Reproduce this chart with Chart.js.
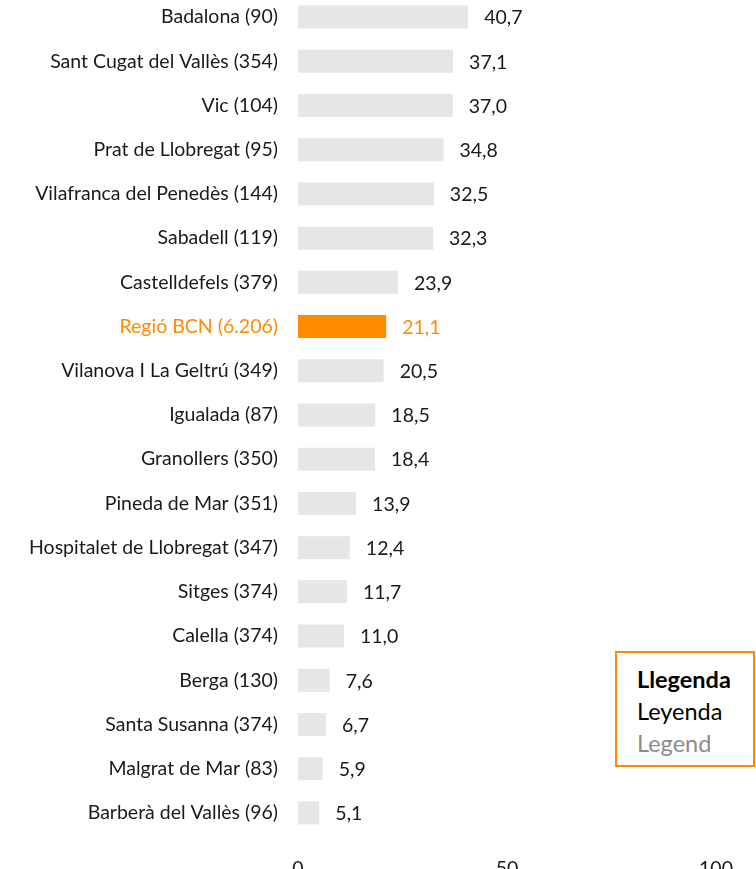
<!DOCTYPE html>
<html>
<head>
<meta charset="utf-8">
<script src="https://cdn.jsdelivr.net/npm/chart.js@4.4.1/dist/chart.umd.min.js"></script>
<style>
  html, body { margin: 0; padding: 0; background: #ffffff; overflow: hidden; }
  body { width: 756px; height: 869px; position: relative; }
  #wrap { position: absolute; left: 0; top: -5px; width: 756px; height: 885px; }
  #legendBox {
    position: absolute; left: 615px; top: 651px; width: 136px; height: 112px;
    border: 2px solid #FF8C00; background: #fff; box-sizing: content-box;
    font-family: Lato, "Open Sans", sans-serif; font-size: 23.5px; line-height: 32px;
  }
  #legendBox .inner { position: absolute; left: 20px; top: 10px; }
  #legendBox .b { font-weight: bold; color: #000; }
  #legendBox .n { color: #000; }
  #legendBox .g { color: #8c8c8c; }
</style>
</head>
<body>
<div id="wrap"><canvas id="c"></canvas></div>
<div id="legendBox"><div class="inner"><div class="b">Llegenda</div><div class="n">Leyenda</div><div class="g">Legend</div></div></div>
<script>
const categories = [
  "Badalona (90)",
  "Sant Cugat del Vallès (354)",
  "Vic (104)",
  "Prat de Llobregat (95)",
  "Vilafranca del Penedès (144)",
  "Sabadell (119)",
  "Castelldefels (379)",
  "Regió BCN (6.206)",
  "Vilanova I La Geltrú (349)",
  "Igualada (87)",
  "Granollers (350)",
  "Pineda de Mar (351)",
  "Hospitalet de Llobregat (347)",
  "Sitges (374)",
  "Calella (374)",
  "Berga (130)",
  "Santa Susanna (374)",
  "Malgrat de Mar (83)",
  "Barberà del Vallès (96)"
];
const values = [40.7, 37.1, 37.0, 34.8, 32.5, 32.3, 23.9, 21.1, 20.5, 18.5, 18.4, 13.9, 12.4, 11.7, 11.0, 7.6, 6.7, 5.9, 5.1];
const xTicks = [0, 50, 100];
const highlight = "Regió BCN (6.206)";

const ORANGE = "#FF8C00";
const GREY_BAR = "#E6E6E6";
const TEXT = "#1a1a1a";
const FONT = "Lato, 'Open Sans', sans-serif";
const FSIZE = 19.5;

const isHi = i => categories[i] === highlight;
const fmt = v => v.toFixed(1).replace(".", ",");

const valueLabels = {
  id: "valueLabels",
  afterDatasetsDraw(chart) {
    const ctx = chart.ctx;
    const meta = chart.getDatasetMeta(0);
    ctx.save();
    ctx.font = FSIZE + "px " + FONT;
    ctx.textAlign = "left";
    ctx.textBaseline = "middle";
    meta.data.forEach((bar, i) => {
      ctx.fillStyle = isHi(i) ? ORANGE : TEXT;
      ctx.fillText(fmt(values[i]), bar.x + 16, bar.y + 1);
    });
    ctx.restore();
  }
};

new Chart(document.getElementById("c"), {
  type: "bar",
  data: {
    labels: categories,
    datasets: [{
      data: values,
      backgroundColor: categories.map((c, i) => isHi(i) ? ORANGE : GREY_BAR),
      borderWidth: 0,
      barPercentage: 0.52,
      categoryPercentage: 1.0
    }]
  },
  options: {
    indexAxis: "y",
    responsive: true,
    maintainAspectRatio: false,
    animation: false,
    layout: { padding: { top: 0, right: 40, bottom: 0, left: 0 } },
    plugins: { legend: { display: false }, tooltip: { enabled: false } },
    scales: {
      y: {
        grid: { display: false, drawTicks: false },
        border: { display: false },
        ticks: {
          padding: 20,
          font: { family: FONT, size: FSIZE },
          color: ctx => isHi(ctx.index) ? ORANGE : TEXT
        },
        afterFit(scale) { scale.width = 298; scale.paddingTop = 0; scale.paddingBottom = 0; }
      },
      x: {
        min: 0, max: 100,
        afterBuildTicks(scale) { scale.ticks = xTicks.map(v => ({ value: v })); },
        grid: { display: false, drawTicks: false },
        border: { display: false },
        ticks: {
          padding: 22,
          font: { family: FONT, size: FSIZE },
          color: TEXT,
          maxRotation: 0
        },
        afterFit(scale) { scale.height = 45; scale.paddingLeft = 0; scale.paddingRight = 0; }
      }
    }
  },
  plugins: [valueLabels]
});
</script>
</body>
</html>
